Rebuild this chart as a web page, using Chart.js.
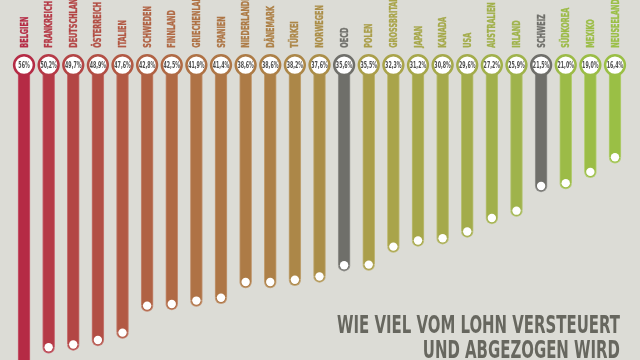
<!DOCTYPE html>
<html><head><meta charset="utf-8">
<script src="https://cdn.jsdelivr.net/npm/chart.js@4"></script>
<style>html,body{margin:0;padding:0;background:#dcdcd6;overflow:hidden}canvas{display:block}</style>
</head><body>
<canvas id="c" width="640" height="360"></canvas>
<script>
const countries = ["BELGIEN","FRANKREICH","DEUTSCHLAND","ÖSTERREICH","ITALIEN","SCHWEDEN","FINNLAND","GRIECHENLAND","SPANIEN","NIEDERLANDE","DÄNEMARK","TÜRKEI","NORWEGEN","OECD","POLEN","GROSSBRITANNIEN","JAPAN","KANADA","USA","AUSTRALIEN","IRLAND","SCHWEIZ","SÜDKOREA","MEXIKO","NEUSEELAND"];
const taxRates = [56,50.2,49.7,48.9,47.6,42.8,42.5,41.9,41.4,38.6,38.6,38.2,37.6,35.6,35.5,32.3,31.2,30.8,29.6,27.2,25.9,21.5,21.0,19.0,16.4];
const rateLabels = ["56%","50,2%","49,7%","48,9%","47,6%","42,8%","42,5%","41,9%","41,4%","38,6%","38,6%","38,2%","37,6%","35,6%","35,5%","32,3%","31,2%","30,8%","29,6%","27,2%","25,9%","21,5%","21,0%","19,0%","16,4%"];
const barColors = ["#b52b45","#b53a47","#b34545","#b24f45","#b25944","#b06244","#b06a45","#af7245","#ae7646","#ad7b46","#ad8047","#ac8748","#ab8e48","#6f6f6a","#aa9e4a","#a9a44a","#a6a74a","#a5a94b","#a3ac4b","#a1b04b","#9fb34b","#6f6f6a","#9cbb47","#9bbd46","#9abf45"];
const titleLines = ["WIE VIEL VOM LOHN VERSTEUERT","UND ABGEZOGEN WIRD"];

const FONT = '"Liberation Sans Narrow","DejaVu Sans Condensed","Roboto Condensed","Liberation Sans",sans-serif';
function mix(hex, t) {
  const n = parseInt(hex.slice(1), 16);
  const r = (n >> 16) & 255, g = (n >> 8) & 255, b = n & 255;
  const f = c => Math.round(c + (255 - c) * t);
  return 'rgb(' + f(r) + ',' + f(g) + ',' + f(b) + ')';
}

const decor = {
  id: 'decor',
  afterDatasetsDraw(chart) {
    const ctx = chart.ctx;
    const meta = chart.getDatasetMeta(0);
    const ys = chart.scales.y;
    const y0 = ys.getPixelForValue(0);
    ctx.save();
    // rounded caps and white dots at bar ends
    meta.data.forEach((bar, i) => {
      const x = bar.x, y = bar.y;
      if (y > chart.height + 8) return;
      ctx.save();
      ctx.beginPath(); ctx.rect(x - 8, y, 16, 10); ctx.clip();
      ctx.beginPath(); ctx.arc(x, y, 6.2, 0, 2 * Math.PI); ctx.fillStyle = mix(barColors[i], 0.25); ctx.fill();
      ctx.beginPath(); ctx.arc(x, y, 5.2, 0, 2 * Math.PI); ctx.fillStyle = barColors[i]; ctx.fill();
      ctx.restore();
      ctx.beginPath(); ctx.arc(x, y, 4.2, 0, 2 * Math.PI); ctx.fillStyle = '#ffffff'; ctx.fill();
    });
    // top circles
    ctx.font = 'bold 9.5px ' + FONT;
    const pf = 16.5 / ctx.measureText("47,6%").width;
    meta.data.forEach((bar, i) => {
      const x = bar.x;
      ctx.beginPath(); ctx.arc(x, y0, 9.9, 0, 2 * Math.PI);
      ctx.fillStyle = '#ffffff'; ctx.fill();
      ctx.lineWidth = 2.5; ctx.strokeStyle = barColors[i]; ctx.stroke();
      ctx.save();
      ctx.translate(x, y0 + 0.5); ctx.scale(pf, 1);
      ctx.fillStyle = '#4e4e4e'; ctx.textAlign = 'center'; ctx.textBaseline = 'middle';
      ctx.fillText(rateLabels[i], 0, 0);
      ctx.restore();
    });
    // vertical country labels
    ctx.font = 'bold 10px ' + FONT;
    const lf = 31 / ctx.measureText("BELGIEN").width;
    meta.data.forEach((bar, i) => {
      ctx.save();
      ctx.translate(bar.x, 47.7);
      ctx.rotate(-Math.PI / 2);
      ctx.scale(lf, 1);
      ctx.fillStyle = barColors[i]; ctx.strokeStyle = barColors[i]; ctx.lineWidth = 0.35;
      ctx.textAlign = 'left'; ctx.textBaseline = 'alphabetic';
      ctx.fillText(countries[i], 0, 3.6);
      ctx.strokeText(countries[i], 0, 3.6);
      ctx.restore();
    });
    // title
    ctx.font = 'bold 25px ' + FONT;
    const tf = 283 / ctx.measureText(titleLines[0]).width;
    ctx.fillStyle = '#67675f'; ctx.textAlign = 'right'; ctx.textBaseline = 'alphabetic';
    [333.3, 357.5].forEach((yy, k) => {
      ctx.save(); ctx.translate(620, yy); ctx.scale(tf, 1);
      ctx.fillText(titleLines[k], 0, 0); ctx.restore();
    });
    ctx.restore();
  }
};

new Chart(document.getElementById('c'), {
  type: 'bar',
  data: {
    labels: countries,
    datasets: [{
      data: taxRates,
      backgroundColor: barColors,
      borderColor: barColors.map(c => mix(c, 0.25)),
      borderWidth: {left: 1, right: 1, top: 0, bottom: 0},
      borderSkipped: false,
      barThickness: 12
    }]
  },
  options: {
    responsive: false,
    animation: false,
    devicePixelRatio: 1,
    layout: {padding: {left: 11.7, right: 12.7, top: 65.1, bottom: 0}},
    plugins: {legend: {display: false}, tooltip: {enabled: false}},
    scales: {
      x: {display: false, offset: true},
      y: {display: false, reverse: true, min: 0, max: 52.47}
    }
  },
  plugins: [decor]
});
</script>
</body></html>
